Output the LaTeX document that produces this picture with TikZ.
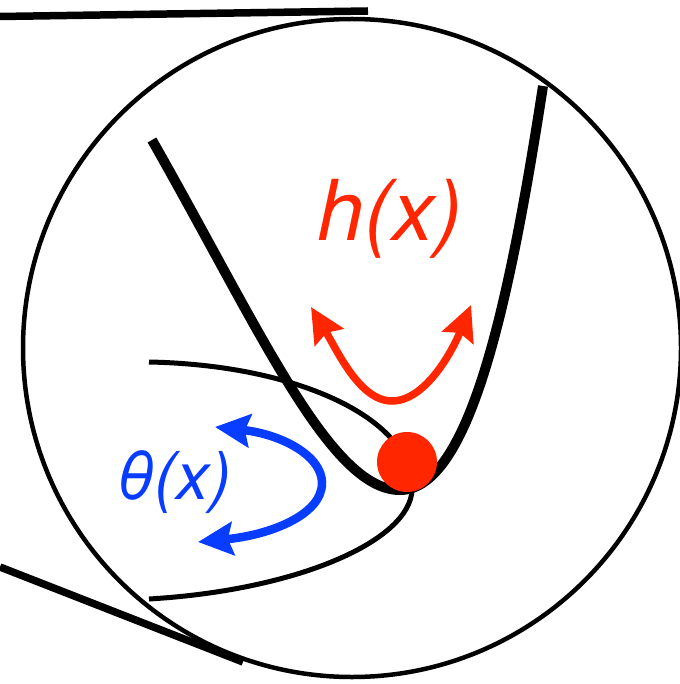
\documentclass[tikz,border=0pt]{standalone}
\usepackage{fontspec}
\setmainfont{TeX Gyre Heros}
\usetikzlibrary{arrows.meta}
\definecolor{hred}{RGB}{255,38,0}
\definecolor{tblue}{RGB}{8,60,255}
\begin{document}
\begin{tikzpicture}[x=1pt,y=-1pt,
  bar/.style={line width=7.5pt},
  thin/.style={line width=5pt},
  thick/.style={line width=10pt},
  dtip/.style={{Stealth[length=35pt,width=33pt,inset=5pt]}-{Stealth[length=35pt,width=33pt,inset=5pt]}},
  lab/.style={inner sep=0pt}]
\useasboundingbox (0,0) rectangle (679,684);
% zoom lines
\coordinate (t1) at (0,16.5);
\coordinate (t2) at (368,11);
\coordinate (b1) at (0,567);
\coordinate (b2) at (243,662);
\draw[bar] (t1) -- (t2);
\draw[bar] (b1) -- (b2);
% circle
\node[draw, circle, line width=4.5pt, minimum size=658pt, inner sep=0pt] (lens) at (352,348) {};
% thin sideways curve
\coordinate (s1) at (149,362);
\coordinate (s2) at (412,490);
\coordinate (s3) at (149,599);
\draw[thin] (s1) .. controls (300,365) and (415,420) .. (s2)
             .. controls (410,540) and (300,590) .. (s3);
% thick parabola
\coordinate (p1) at (152,140);
\coordinate (p2) at (400,490);
\coordinate (p3) at (543,86);
\draw[thick] (p1) .. controls (260,330) and (330,490) .. (p2)
              .. controls (470,490) and (510,300) .. (p3);
% red dot
\node[circle, fill=hred, minimum size=60pt, inner sep=0pt] (dot) at (407,462) {};
% red arrow
\coordinate (r1) at (311,307);
\coordinate (r2) at (392,401);
\coordinate (r3) at (471,305);
\draw[hred, line width=7.5pt, dtip] (r1) .. controls (338,352) and (360,401) .. (r2)
              .. controls (425,401) and (452,352) .. (r3);
% blue arrow
\coordinate (u1) at (215,427);
\coordinate (u2) at (322,483);
\coordinate (u3) at (198,542);
\draw[tblue, line width=8.5pt, dtip] (u1) .. controls (280,434) and (322,455) .. (u2)
              .. controls (322,515) and (270,535) .. (u3);
% labels
\node[lab, text=hred] (hx) at (390,219) {\fontsize{84}{90}\selectfont\itshape h(x)};
\node[lab, text=tblue] (tx) at (174,482) {\fontsize{66}{72}\selectfont\itshape θ(x)};
\end{tikzpicture}
\end{document}
